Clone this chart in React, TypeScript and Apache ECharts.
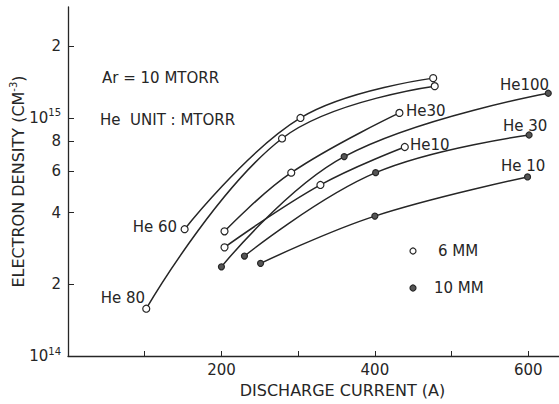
import React, { useEffect, useRef } from 'react';
import * as echarts from 'echarts';

// ---- data (x: discharge current A, y: electron density cm^-3) ----
const he80Open = [[102, 1.58e14], [279, 8.2e14], [478, 1.36e15]];
const he60Open = [[152, 3.41e14], [303, 1.0e15], [476, 1.47e15]];
const he30Open = [[204, 3.34e14], [291, 5.89e14], [432, 1.05e15]];
const he10Open = [[204, 2.86e14], [329, 5.23e14], [439, 7.55e14]];
const he100Filled = [[200, 2.37e14], [360, 6.88e14], [626, 1.27e15]];
const he30Filled = [[230, 2.63e14], [401, 5.89e14], [601, 8.48e14]];
const he10Filled = [[251, 2.45e14], [400, 3.87e14], [599, 5.65e14]];

const xTickLabels = [200, 400, 600];
const yTickValues = [1e14, 2e14, 4e14, 6e14, 8e14, 1e15, 2e15];
const yMin = 1e14;
const yMax = 2.925e15;
const xMin = 0;
const xMax = 640;

const FONT = "'DejaVu Sans', sans-serif";
const INK = '#262626';

function txt(text: string, x: number, y: number, align: string, size = 15) {
  return {
    type: 'text',
    x,
    y,
    silent: true,
    style: {
      text,
      fill: INK,
      font: `${size}px ${FONT}`,
      align,
      textAlign: align,
      verticalAlign: 'middle',
      textVerticalAlign: 'middle',
    },
  };
}

export default function App() {
  const ref = useRef<HTMLDivElement>(null);

  useEffect(() => {
    if (!ref.current) return;
    const chart = echarts.init(ref.current, undefined, { renderer: 'svg' });
    const yTickLog = yTickValues.map((v) => Math.log10(v));

    const mk = (name: string, data: number[][], open: boolean) => ({
      type: 'line',
      name,
      data,
      yAxisIndex: 0,
      smooth: 0.4,
      symbol: 'circle',
      symbolSize: open ? 7 : 6,
      lineStyle: { color: INK, width: 1.5 },
      itemStyle: { color: open ? '#ffffff' : '#555555', borderColor: INK, borderWidth: 1.2 },
      emphasis: { disabled: true },
      z: 3,
    });

    const option = {
      animation: false,
      backgroundColor: '#ffffff',
      grid: { left: 68, right: 0, top: 7, bottom: 48, containLabel: false, outerBoundsMode: 'none' },
      xAxis: {
        type: 'value',
        min: xMin,
        max: xMax,
        interval: 100,
        axisLine: { lineStyle: { color: INK, width: 1.3 } },
        axisTick: { inside: true, length: 5, lineStyle: { color: INK } },
        axisLabel: {
          margin: 6,
          color: INK,
          fontSize: 15,
          fontFamily: FONT,
          formatter: (v: number) => (xTickLabels.includes(v) ? String(v) : ''),
        },
        splitLine: { show: false },
        name: 'DISCHARGE CURRENT (A)',
        nameLocation: 'middle',
        nameGap: 26,
        nameTextStyle: { fontSize: 16, fontFamily: FONT, color: INK, padding: [0, 0, 0, 58] },
      },
      yAxis: [
        {
          type: 'log',
          logBase: 10,
          position: 'left',
          min: yMin,
          max: yMax,
          axisLine: { show: true, lineStyle: { color: INK, width: 1.3 } },
          axisTick: { show: false },
          axisLabel: { show: false },
          splitLine: { show: false },
          name: 'ELECTRON DENSITY (CM{s|-3})',
          nameLocation: 'middle',
          nameGap: 40,
          nameTextStyle: {
            fontSize: 16,
            fontFamily: FONT,
            color: INK,
            lineHeight: 20,
            rich: {
              s: { fontSize: 10, fontFamily: FONT, color: INK, verticalAlign: 'top', lineHeight: 10 },
            },
          },
        },
        {
          type: 'value',
          position: 'left',
          offset: 0,
          min: Math.log10(yMin),
          max: Math.log10(yMax),
          axisLine: { show: false },
          axisTick: { show: true, inside: true, length: 6, customValues: yTickLog, lineStyle: { color: INK } },
          axisLabel: {
            customValues: yTickLog,
            margin: 7,
            color: INK,
            fontFamily: FONT,
            formatter: (v: number) => {
              const e = Math.round(v);
              if (Math.abs(v - e) < 1e-6) return `{b|10}{s|${e}}`;
              return `{b|${Math.round(Math.pow(10, v - Math.floor(v)))}}`;
            },
            rich: {
              b: { fontSize: 15, fontFamily: FONT, color: INK, lineHeight: 20 },
              s: { fontSize: 10, fontFamily: FONT, color: INK, verticalAlign: 'top', lineHeight: 10 },
            },
          },
          splitLine: { show: false },
        },
      ],
      series: [
        mk('He 80 (6 MM)', he80Open, true),
        mk('He 60 (6 MM)', he60Open, true),
        mk('He 30 (6 MM)', he30Open, true),
        mk('He 10 (6 MM)', he10Open, true),
        mk('He 100 (10 MM)', he100Filled, false),
        mk('He 30 (10 MM)', he30Filled, false),
        mk('He 10 (10 MM)', he10Filled, false),
      ],
      graphic: [
        txt('Ar = 10 MTORR', 102, 78, 'left'),
        txt('He  UNIT : MTORR', 100, 120, 'left'),
        txt('He 80', 145, 298, 'right'),
        txt('He 60', 177, 227, 'right'),
        txt('He30', 406, 111, 'left'),
        txt('He10', 410, 145, 'left'),
        txt('He100', 500, 85, 'left'),
        txt('He 30', 503, 126, 'left'),
        txt('He 10', 501, 166, 'left'),
        {
          type: 'circle',
          silent: true,
          shape: { cx: 413, cy: 251, r: 3 },
          style: { fill: '#ffffff', stroke: INK, lineWidth: 1.2 },
        },
        {
          type: 'circle',
          silent: true,
          shape: { cx: 413, cy: 288, r: 3 },
          style: { fill: '#555555', stroke: INK, lineWidth: 1.2 },
        },
        txt('6 MM', 438, 251, 'left'),
        txt('10 MM', 434, 288, 'left'),
      ],
    };

    chart.setOption(option as any);
    return () => chart.dispose();
  }, []);

  return (
    <div
      ref={ref}
      style={{ position: 'fixed', left: 0, top: 0, width: 559, height: 404, background: '#fff' }}
    />
  );
}
